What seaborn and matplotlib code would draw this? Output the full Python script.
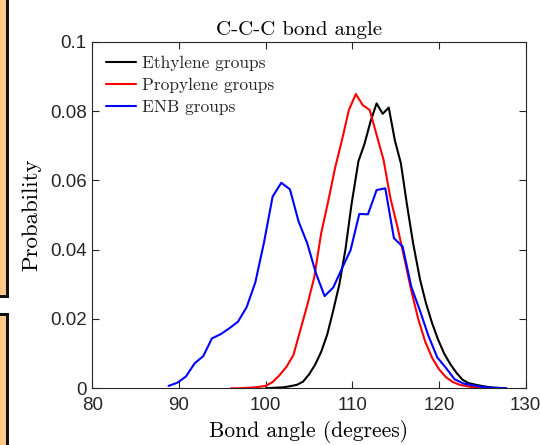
import numpy as np
import pandas as pd
import matplotlib
matplotlib.use("Agg")
import matplotlib.pyplot as plt
import seaborn as sns
from matplotlib.patches import Rectangle

# ---- data ----
eth_x = [100.0, 100.7, 101.4, 102.1, 102.8, 103.6, 104.3, 105.0, 105.7, 106.4,
         107.1, 107.8, 108.5, 109.2, 109.9, 110.7, 111.4, 112.1, 112.8, 113.5,
         114.2, 114.9, 115.6, 116.3, 117.0, 117.8, 118.5, 119.2, 119.9, 120.6,
         121.3, 122.0, 122.7, 123.4, 124.1, 124.9, 125.6, 126.3, 127.0, 127.7]
eth_y = [0.0000, 0.0001, 0.0002, 0.0003, 0.0006, 0.0010, 0.0019, 0.0040, 0.0068, 0.0105,
         0.0155, 0.0225, 0.0300, 0.0400, 0.0530, 0.0655, 0.0705, 0.0770, 0.0822, 0.0792,
         0.0810, 0.0716, 0.0649, 0.0530, 0.0420, 0.0315, 0.0245, 0.0188, 0.0140, 0.0100,
         0.0070, 0.0045, 0.0025, 0.0015, 0.0011, 0.0007, 0.0004, 0.0002, 0.0001, 0.0000]

pro_x = [96.0, 96.8, 97.6, 98.4, 99.2, 100.0, 100.8, 101.6, 102.4, 103.2,
         104.0, 104.8, 105.6, 106.4, 107.2, 108.0, 108.8, 109.6, 110.4, 111.2,
         112.0, 112.8, 113.6, 114.4, 115.2, 116.0, 116.8, 117.6, 118.4, 119.2,
         120.0, 120.8, 121.6, 122.4, 123.2, 124.0, 124.8, 125.6, 126.4, 127.2]
pro_y = [0.0000, 0.0000, 0.0001, 0.0002, 0.0004, 0.0007, 0.0018, 0.0038, 0.0062, 0.0096,
         0.0168, 0.0240, 0.0320, 0.0447, 0.0538, 0.0635, 0.0716, 0.0803, 0.0849, 0.0817,
         0.0803, 0.0731, 0.0659, 0.0548, 0.0466, 0.0375, 0.0282, 0.0200, 0.0135, 0.0088,
         0.0055, 0.0032, 0.0018, 0.0010, 0.0006, 0.0003, 0.0002, 0.0001, 0.0000, 0.0000]

enb_x = [88.8, 89.8, 90.8, 91.8, 92.8, 93.8, 94.8, 95.8, 96.8, 97.8,
         98.8, 99.8, 100.8, 101.8, 102.8, 103.8, 104.8, 105.8, 106.8, 107.8,
         108.8, 109.8, 110.8, 111.8, 112.8, 113.8, 114.8, 115.8, 116.8, 117.8,
         118.8, 119.8, 120.8, 121.8, 122.8, 123.8, 124.8, 125.8, 126.8, 127.8]
enb_y = [0.0007, 0.0016, 0.0034, 0.0072, 0.0093, 0.0144, 0.0156, 0.0173, 0.0192, 0.0234,
         0.0305, 0.0420, 0.0553, 0.0593, 0.0574, 0.0481, 0.0418, 0.0332, 0.0266, 0.0291,
         0.0346, 0.0399, 0.0503, 0.0502, 0.0572, 0.0577, 0.0433, 0.0409, 0.0293, 0.0224,
         0.0150, 0.0089, 0.0059, 0.0026, 0.0014, 0.0009, 0.0005, 0.0002, 0.0001, 0.0000]

series_names = ["Ethylene groups", "Propylene groups", "ENB groups"]
series_colors = ["#000000", "#FF0000", "#0000FF"]

x_ticks = [80, 90, 100, 110, 120, 130]
y_ticks = [0, 0.02, 0.04, 0.06, 0.08, 0.1]
y_tick_labels = ["0", "0.02", "0.04", "0.06", "0.08", "0.1"]

title_text = "C-C-C bond angle"
x_label = "Bond angle (degrees)"
y_label = "Probability"

# ---- build frame ----
frames = []
for name, xs, ys in zip(series_names, [eth_x, pro_x, enb_x], [eth_y, pro_y, enb_y]):
    frames.append(pd.DataFrame({"angle": xs, "prob": ys, "group": name}))
df = pd.concat(frames, ignore_index=True)

sns.set_style("white")
plt.rcParams["font.family"] = ["Liberation Sans", "DejaVu Sans"]

fig = plt.figure(figsize=(5.4, 4.45), dpi=100)
ax = fig.add_axes([0.171, 0.1274, 0.8025, 0.7789])

sns.lineplot(data=df, x="angle", y="prob", hue="group", hue_order=series_names,
             palette=series_colors, estimator=None, sort=False, linewidth=1.5, ax=ax)

ax.set_xlim(80, 130)
ax.set_ylim(0, 0.1)
ax.set_xticks(x_ticks)
ax.set_xticklabels([str(t) for t in x_ticks])
ax.set_yticks(y_ticks)
ax.set_yticklabels(y_tick_labels)

axis_col = "#262626"
for s in ax.spines.values():
    s.set_visible(True)
    s.set_color(axis_col)
    s.set_linewidth(0.8)
ax.tick_params(direction="in", length=5, width=0.8, colors=axis_col,
               labelsize=13.5, top=True, right=True, bottom=True, left=True,
               labeltop=False, labelright=False)
ax.tick_params(axis="x", pad=6)
ax.tick_params(axis="y", pad=4)

serif = "cmr10"
ax.set_title(title_text, fontsize=15, family=serif, color="#000000", pad=5, x=0.477)
ax.set_xlabel(x_label, fontsize=15.5, family=serif, color="#000000", labelpad=4.5)
ax.set_ylabel(y_label, fontsize=16.5, family=serif, color="#000000", labelpad=6.5)

leg = ax.legend(loc="upper left", frameon=False, prop={"family": serif, "size": 12.5},
                handlelength=1.7, handletextpad=0.35, labelspacing=0.4,
                borderaxespad=0.4)
for line in leg.get_lines():
    line.set_linewidth(1.5)

# neighbouring-panel fragments at the left edge
orange = "#FFC98A"
W, H = 540.0, 445.0
fig.patches.append(Rectangle((0, 1 - 298 / H), 8 / W, 298 / H, transform=fig.transFigure,
                             facecolor=orange, edgecolor="none", zorder=0))
fig.patches.append(Rectangle((6 / W, 1 - 298 / H), 3 / W, 298 / H, transform=fig.transFigure,
                             facecolor="#111111", edgecolor="none", zorder=1))
fig.patches.append(Rectangle((0, 1 - 298 / H), 9 / W, 3 / H, transform=fig.transFigure,
                             facecolor="#111111", edgecolor="none", zorder=1))
fig.patches.append(Rectangle((0, 0), 8 / W, 1 - 313 / H, transform=fig.transFigure,
                             facecolor=orange, edgecolor="none", zorder=0))
fig.patches.append(Rectangle((6 / W, 0), 3 / W, 1 - 313 / H, transform=fig.transFigure,
                             facecolor="#111111", edgecolor="none", zorder=1))
fig.patches.append(Rectangle((0, 1 - 316 / H), 9 / W, 3 / H, transform=fig.transFigure,
                             facecolor="#111111", edgecolor="none", zorder=1))

fig.savefig("out.png", dpi=100)
